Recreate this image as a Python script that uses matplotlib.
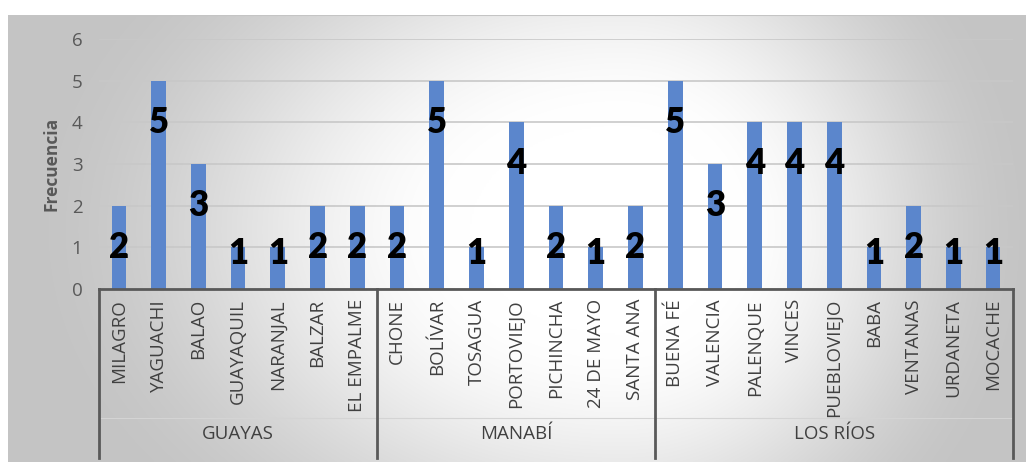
import numpy as np
import matplotlib
matplotlib.use("Agg")
import matplotlib.pyplot as plt
from matplotlib.transforms import blended_transform_factory

# Data
groups = ["GUAYAS", "MANABÍ", "LOS RÍOS"]
guayas_cantones = ["MILAGRO", "YAGUACHI", "BALAO", "GUAYAQUIL", "NARANJAL", "BALZAR", "EL EMPALME"]
guayas_values = [2, 5, 3, 1, 1, 2, 2]
manabi_cantones = ["CHONE", "BOLÍVAR", "TOSAGUA", "PORTOVIEJO", "PICHINCHA", "24 DE MAYO", "SANTA ANA"]
manabi_values = [2, 5, 1, 4, 2, 1, 2]
losrios_cantones = ["BUENA FÉ", "VALENCIA", "PALENQUE", "VINCES", "PUEBLOVIEJO", "BABA",
                    "VENTANAS", "URDANETA", "MOCACHE"]
losrios_values = [5, 3, 4, 4, 4, 1, 2, 1, 1]
y_ticks = [0, 1, 2, 3, 4, 5, 6]

cantones = guayas_cantones + manabi_cantones + losrios_cantones
values = guayas_values + manabi_values + losrios_values
group_sizes = [len(guayas_cantones), len(manabi_cantones), len(losrios_cantones)]

W, H = 1026, 462
fig = plt.figure(figsize=(W / 100, H / 100), dpi=100)
fig.patch.set_facecolor("white")

# Chart-area background with a soft radial gradient
bg = fig.add_axes([8 / W, 0, 1 - 8 / W, (H - 15) / H])
bg.set_axis_off()
gx = np.linspace(8, W, 600)
gy = np.linspace(15, H, 300)
X, Y = np.meshgrid(gx, gy)
cx, cy = 620, 230
rx = np.where(X < cx, 600, 420)
ry = 420
r = np.sqrt(((X - cx) / rx) ** 2 + ((Y - cy) / ry) ** 2)
t = np.clip((r - 0.25) / 0.75, 0, 1)
t = t * t * (3 - 2 * t)
shade = 1.0 - 0.23 * t
bg.imshow(np.dstack([shade, shade, shade]), extent=[0, 1, 0, 1], aspect="auto",
          origin="upper", interpolation="bilinear")
bg.set_xlim(0, 1)
bg.set_ylim(0, 1)
bg.axhline(1, color="#c4c4c4", lw=1.5)

# Main plot
x0, x1 = 99, 1013
ytop, ybot = 39, 289
ax = fig.add_axes([x0 / W, (H - ybot) / H, (x1 - x0) / W, (ybot - ytop) / H])
ax.patch.set_alpha(0)
n = len(cantones)
x = np.arange(n)
ax.bar(x, values, width=0.37, color="#5B86CC", zorder=3)
ax.set_xlim(-0.5, n - 0.5)
ax.set_ylim(0, 6)
ax.set_yticks(y_ticks)
ax.set_yticklabels([str(v) for v in y_ticks], fontsize=13.5, color="#595959", family="Open Sans")
ax.tick_params(axis="y", length=0, pad=12)
ax.tick_params(axis="x", length=0, labelbottom=False)
ax.grid(axis="y", color="#c8c8c8", lw=1.2, zorder=0)
for s in ["top", "right", "left"]:
    ax.spines[s].set_visible(False)
ax.spines["bottom"].set_color("#595959")
ax.spines["bottom"].set_linewidth(2)
ax.spines["bottom"].set_zorder(4)
ax.set_ylabel("Frecuencia", fontsize=12.5, fontweight="bold", color="#595959",
              family="Open Sans", labelpad=8)

# Value labels
for xi, v in zip(x, values):
    ax.text(xi, max(v - 1.0, 0.85), str(v), ha="center", va="center", fontsize=25,
            fontweight="heavy", color="black", family="Lato", zorder=5)

# Multi-level category axis
tr = blended_transform_factory(ax.transData, ax.transAxes)
ax_h = ybot - ytop
for xi, name in zip(x, cantones):
    ax.text(xi, -10 / ax_h, name, rotation=90, ha="center", va="top", fontsize=13.5,
            color="#404040", family="Open Sans", transform=tr, clip_on=False)

bottom = -(458 - ybot) / ax_h
bounds = np.concatenate([[0], np.cumsum(group_sizes)]) - 0.5
for b in bounds:
    ax.plot([b, b], [0, bottom], transform=tr, color="#595959", lw=2, clip_on=False, zorder=4)
ax.plot([-0.5, n - 0.5], [-(418 - ybot) / ax_h] * 2, transform=tr, color="#d4d4d4",
        lw=0.8, clip_on=False, zorder=1)
for g, a, b in zip(groups, bounds[:-1], bounds[1:]):
    ax.text((a + b) / 2, -(434 - ybot) / ax_h, g, ha="center", va="center", fontsize=13.5,
            color="#404040", family="Open Sans", transform=tr, clip_on=False)

fig.savefig("out.png", dpi=100)
